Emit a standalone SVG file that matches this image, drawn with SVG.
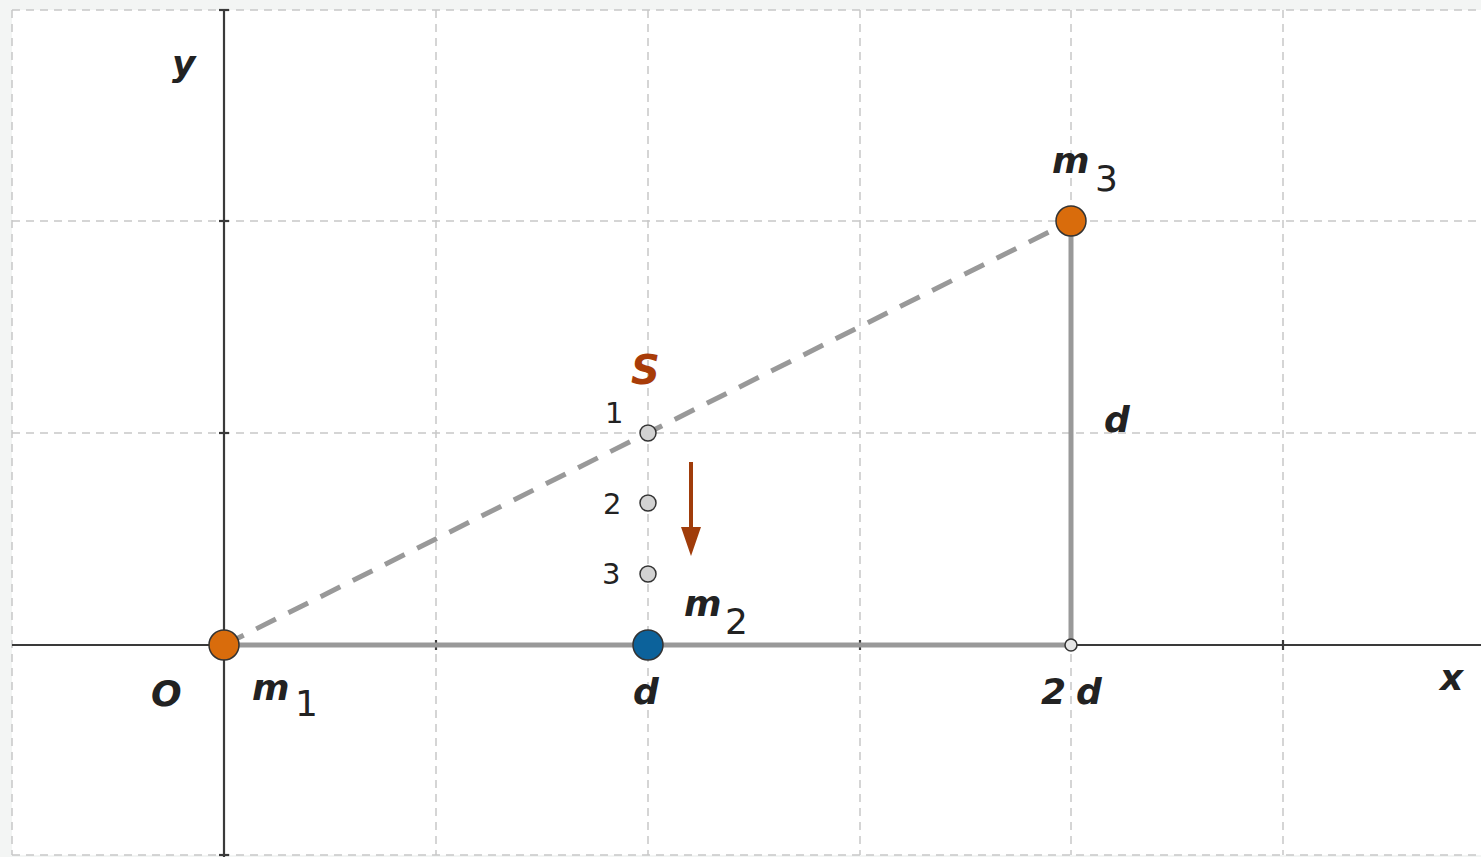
<svg xmlns="http://www.w3.org/2000/svg" width="1481" height="857" viewBox="0 0 1481 857">
<style>
.grid{stroke:#c8c8c8;stroke-width:1.5;stroke-dasharray:8 6;fill:none}
.axis{stroke:#3a3a3a;stroke-width:2.2;fill:none}
.seg{stroke:#999;stroke-width:5;fill:none}
.lbl{font-family:"DejaVu Sans",sans-serif;font-weight:bold;font-style:italic;font-size:36px;fill:#222}
.num{font-family:"DejaVu Sans",sans-serif;font-size:29px;fill:#222}
.sub{font-family:"DejaVu Sans",sans-serif;font-size:36px;fill:#222}
.pt{fill:#d2d2d2;stroke:#333;stroke-width:1.5}
</style>
<rect x="0" y="0" width="1481" height="857" fill="#f3f5f4"/>
<rect x="12" y="10" width="1469" height="845" fill="#ffffff"/>
<g id="grid">
<line class="grid" x1="12" y1="10" x2="12" y2="855"/>
<line class="grid" x1="436" y1="10" x2="436" y2="855"/>
<line class="grid" x1="648" y1="10" x2="648" y2="855"/>
<line class="grid" x1="860" y1="10" x2="860" y2="855"/>
<line class="grid" x1="1071" y1="10" x2="1071" y2="855"/>
<line class="grid" x1="1283" y1="10" x2="1283" y2="855"/>
<line class="grid" x1="12" y1="10" x2="1481" y2="10"/>
<line class="grid" x1="12" y1="221" x2="1481" y2="221"/>
<line class="grid" x1="12" y1="433" x2="1481" y2="433"/>
<line class="grid" x1="12" y1="855" x2="1481" y2="855"/>
</g>
<g id="axes">
<line class="axis" x1="12" y1="645" x2="1481" y2="645"/>
<line class="axis" x1="224" y1="10" x2="224" y2="857"/>
<line class="axis" x1="436" y1="640" x2="436" y2="650"/>
<line class="axis" x1="860" y1="640" x2="860" y2="650"/>
<line class="axis" x1="1283" y1="640" x2="1283" y2="650"/>
<line class="axis" x1="219" y1="221" x2="229" y2="221"/>
<line class="axis" x1="219" y1="433" x2="229" y2="433"/>
<line class="axis" x1="219" y1="10" x2="229" y2="10"/>
<line class="axis" x1="219" y1="855" x2="229" y2="855"/>
</g>
<g id="connectors">
<line class="seg" x1="224" y1="645" x2="1071" y2="645"/>
<line class="seg" x1="1071" y1="221" x2="1071" y2="645"/>
<line class="seg" x1="224" y1="645" x2="1071" y2="221" stroke-dasharray="22 14"/>
<line x1="691" y1="462" x2="691" y2="530" stroke="#a03c0a" stroke-width="4"/>
<polygon points="681,527 701,527 691,556" fill="#a03c0a"/>
</g>
<g id="m1"><circle cx="224" cy="645" r="15" fill="#d96c0c" stroke="#333" stroke-width="1.5"/>
<text class="lbl" x="252" y="700">m</text><text class="sub" x="295" y="716">1</text></g>
<g id="m2"><circle cx="648" cy="645" r="15" fill="#0c629b" stroke="#333" stroke-width="1.5"/>
<text class="lbl" x="684" y="616">m</text><text class="sub" x="725" y="634">2</text></g>
<g id="m3"><circle cx="1071" cy="221" r="15" fill="#d96c0c" stroke="#333" stroke-width="1.5"/>
<text class="lbl" x="1052" y="173">m</text><text class="sub" x="1095" y="191">3</text></g>
<g id="p1"><circle class="pt" cx="648" cy="433" r="8"/><text class="num" x="605" y="423">1</text></g>
<g id="p2"><circle class="pt" cx="648" cy="503" r="8"/><text class="num" x="603" y="514">2</text></g>
<g id="p3"><circle class="pt" cx="648" cy="574" r="8"/><text class="num" x="602" y="584">3</text></g>
<g id="p4"><circle cx="1071" cy="645" r="6" fill="#e6e6e6" stroke="#333" stroke-width="1.5"/></g>
<g id="labels">
<text class="lbl" x="631" y="384" style="fill:#a83c08;font-size:40px">S</text>
<text class="lbl" x="172" y="76">y</text>
<text class="lbl" x="1104" y="432">d</text>
<text class="lbl" x="151" y="706">O</text>
<text class="lbl" x="633" y="704">d</text>
<text class="lbl" x="1041" y="704">2<tspan dx="10">d</tspan></text>
<text class="lbl" x="1440" y="690">x</text>
</g>
</svg>
